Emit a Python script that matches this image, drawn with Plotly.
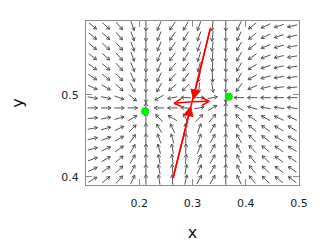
import math
import plotly.graph_objects as go

# ---------------- data ----------------
x_grid = [0.1125, 0.1375, 0.1625, 0.1875, 0.2125, 0.2375, 0.2625, 0.2875,
          0.3125, 0.3375, 0.3625, 0.3875, 0.4125, 0.4375, 0.4625, 0.4875]
y_grid = [0.584, 0.5715, 0.559, 0.5465, 0.534, 0.5215, 0.509, 0.4965,
          0.484, 0.4715, 0.459, 0.4465, 0.434, 0.4215, 0.409, 0.3965]

# arrow directions in degrees (0 = right, 90 = up), rows top -> bottom
angles = [
    [-40, -42, -50, -70, -90, -112, -125, -120, -110, -97, -90, -115, -140, -155, -163, -168],
    [-40, -42, -50, -70, -90, -112, -125, -120, -110, -97, -90, -115, -140, -155, -163, -168],
    [-40, -42, -50, -70, -90, -112, -125, -120, -110, -97, -90, -118, -142, -157, -165, -170],
    [-38, -42, -50, -70, -90, -113, -127, -122, -108, -95, -90, -118, -145, -160, -167, -171],
    [-36, -40, -48, -68, -90, -113, -130, -125, -105, -92, -90, -120, -148, -162, -168, -172],
    [-33, -38, -47, -67, -90, -115, -132, -128, -102, -88, -90, -120, -150, -164, -170, -173],
    [-25, -30, -42, -63, -90, -118, -140, -135, -95, -80, -90, -125, -155, -168, -172, -175],
    [-10, -12, -20, -40, -90, -150, -170, 180, 0, 10, -90, 180, 180, 180, 180, 180],
    [0, 0, 0, 0, 90, 180, 180, 175, 10, 30, 90, 150, 165, 170, 172, 172],
    [5, 10, 15, 30, 90, 135, 150, 120, 45, 50, 90, 130, 145, 150, 155, 155],
    [10, 15, 25, 45, 90, 120, 115, 95, 70, 60, 90, 125, 140, 145, 150, 150],
    [12, 20, 30, 55, 90, 110, 105, 90, 70, 60, 90, 120, 135, 143, 148, 150],
    [15, 25, 35, 60, 90, 105, 100, 88, 70, 60, 90, 118, 133, 140, 145, 148],
    [20, 30, 40, 60, 90, 100, 97, 85, 70, 60, 90, 115, 130, 138, 143, 145],
    [25, 35, 45, 62, 90, 100, 95, 80, 65, 60, 90, 115, 130, 137, 142, 145],
    [30, 40, 50, 65, 90, 98, 93, 78, 62, 60, 90, 115, 130, 135, 140, 143],
]

# stable nodes (green)
node_x = [0.211, 0.368]
node_y = [0.480, 0.4975]

# saddle eigen-directions (red)
stable_x = [0.2635, 0.3335]      # long red line, bottom -> top
stable_y = [0.3985, 0.581]
stable_tip_x = [0.2972, 0.301]   # arrow tips near the saddle (bottom arrow, top arrow)
stable_tip_y = [0.4866, 0.4937]
saddle_x = 0.298
saddle_y = 0.4915
unstable_x = [0.2654, 0.3312]    # ends of the horizontal red arrows (left, right)
unstable_y = [0.4896, 0.4921]

# ---------------- geometry ----------------
W, H = 329, 247
PW, PH = 213, 164            # plot area size in px
ML, MT = 78, 13              # page body adds 8 px
MR = W - ML - PW
MB = H - MT - PH
XR = [0.1, 0.5]
YR = [0.39, 0.59]
SX = PW / (XR[1] - XR[0])
SY = PH / (YR[1] - YR[0])

ARROW_LEN = 10.0   # px
HEAD_LEN = 3.6     # px
HEAD_ANG = 30.0    # deg


def head(tx, ty, ux, uy, hl, ang):
    """barb end points for an arrow tip at (tx,ty) in data coords, unit dir (ux,uy) in px space"""
    pts = []
    for s in (1, -1):
        a = math.radians(ang * s)
        bx = -ux * math.cos(a) + uy * math.sin(a)
        by = -uy * math.cos(a) - ux * math.sin(a)
        pts.append((tx + hl * bx / SX, ty + hl * by / SY))
    return pts


qx, qy = [], []
for j, yc in enumerate(y_grid):
    for i, xc in enumerate(x_grid):
        a = math.radians(angles[j][i])
        ux, uy = math.cos(a), math.sin(a)
        tx0 = xc - ARROW_LEN / 2 * ux / SX
        ty0 = yc - ARROW_LEN / 2 * uy / SY
        tx1 = xc + ARROW_LEN / 2 * ux / SX
        ty1 = yc + ARROW_LEN / 2 * uy / SY
        (b1x, b1y), (b2x, b2y) = head(tx1, ty1, ux, uy, HEAD_LEN, HEAD_ANG)
        qx += [tx0, tx1, None, b1x, tx1, b2x, None]
        qy += [ty0, ty1, None, b1y, ty1, b2y, None]

fig = go.Figure()
fig.add_trace(go.Scatter(x=qx, y=qy, mode="lines",
                         line=dict(color="#555555", width=1),
                         hoverinfo="skip", showlegend=False))

# red unstable (horizontal) arrows with open heads
rx, ry = [], []
for ex, ey in zip(unstable_x, unstable_y):
    dx = (ex - saddle_x) * SX
    dy = (ey - saddle_y) * SY
    n = math.hypot(dx, dy)
    ux, uy = dx / n, dy / n
    (b1x, b1y), (b2x, b2y) = head(ex, ey, ux, uy, 8, 28)
    rx += [saddle_x, ex, None, b1x, ex, b2x, None]
    ry += [saddle_y, ey, None, b1y, ey, b2y, None]
fig.add_trace(go.Scatter(x=rx, y=ry, mode="lines",
                         line=dict(color="red", width=1.5),
                         hoverinfo="skip", showlegend=False))

# red stable line
fig.add_trace(go.Scatter(x=stable_x, y=stable_y, mode="lines",
                         line=dict(color="red", width=1.5),
                         hoverinfo="skip", showlegend=False))

# green nodes
fig.add_trace(go.Scatter(x=node_x, y=node_y, mode="markers",
                         marker=dict(color="#00ee00", size=8),
                         hoverinfo="skip", showlegend=False))

# filled arrowheads on the stable line, pointing to the saddle
for k in range(2):
    fig.add_annotation(x=stable_tip_x[k], y=stable_tip_y[k],
                       ax=stable_x[k], ay=stable_y[k],
                       xref="x", yref="y", axref="x", ayref="y",
                       showarrow=True, arrowhead=2, arrowsize=1.4,
                       arrowwidth=1.5, arrowcolor="red", text="")

axis_common = dict(showgrid=False, zeroline=False, showline=True, mirror="ticks",
                   linecolor="#8c8c8c", linewidth=1, ticks="inside", ticklen=6,
                   tickcolor="#8c8c8c", automargin=False,
                   tickfont=dict(family="DejaVu Sans", size=11, color="#222"))

fig.update_xaxes(range=XR, tickvals=[0.2, 0.3, 0.4, 0.5], ticktext=["0.2", "0.3", "0.4", "0.5"],
                 title=dict(text="x", font=dict(family="DejaVu Sans", size=16, color="#111"), standoff=17),
                 ticklabelstandoff=8, **axis_common)
fig.update_yaxes(range=YR, tickvals=[0.4, 0.5], ticktext=["0.4", "0.5"],
                 title=dict(text="y", font=dict(family="DejaVu Sans", size=16, color="#111"), standoff=42),
                 ticklabelstandoff=4, **axis_common)

fig.update_layout(width=W, height=H, margin=dict(l=ML, r=MR, t=MT, b=MB),
                  paper_bgcolor="white", plot_bgcolor="white")

fig.write_html("out.html")
